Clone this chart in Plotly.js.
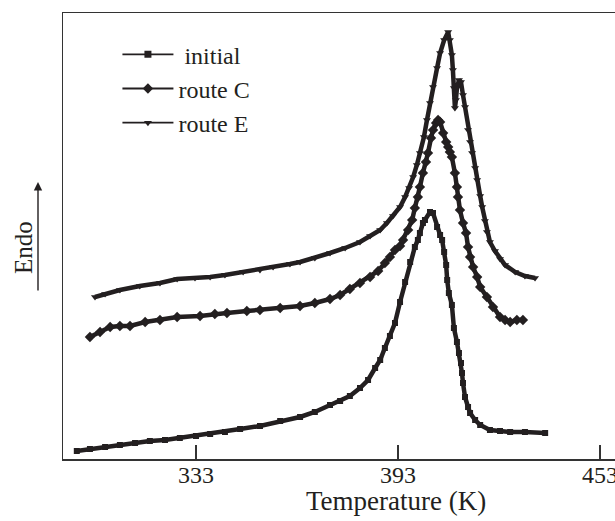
<!DOCTYPE html>
<html>
<head>
<meta charset="utf-8">
<script src="https://cdn.plot.ly/plotly-3.0.1.min.js"></script>
<style>
html,body{margin:0;padding:0;overflow:hidden;background:#fff;}
#chart{width:640px;height:521px;}
</style>
</head>
<body>
<div id="chart"></div>
<script>
// Temperature (K) and heat-flow signal (arbitrary units, endo up)
var initialT = [297.6,301.5,306.0,310.4,314.9,319.3,323.8,328.2,333.0,337.2,341.6,346.1,352.0,358.0,363.9,368.3,372.8,375.8,378.7,381.7,384.1,386.2,387.7,389.1,390.6,392.1,393.6,395.1,396.6,398.0,398.9,399.5,400.4,401.0,402.5,403.4,404.6,405.5,406.1,406.7,407.3,407.6,408.1,409.0,409.6,410.5,411.1,411.7,412.0,412.3,412.9,413.8,414.4,415.9,417.4,420.3,423.3,426.3,430.7,436.7];
var initialY = [8,10,12,14,16,18,19,21,23,25,27,30,33,38,42,47,54,58,63,71,79,91,99,111,123,136,157,177,197,212,219,226,236,239,247,246,232,224,219,207,194,179,166,154,131,117,106,96,86,76,62,52,46,39,34,29,28,27,27,26];

var routeCT = [301.5,304.5,307.5,310.4,313.4,317.9,322.3,327.4,334.2,338.6,342.2,348.1,352.0,358.0,363.9,368.3,372.8,375.8,378.7,381.7,384.7,387.1,389.1,390.6,392.1,393.6,394.5,396.0,397.2,398.0,398.9,399.5,400.4,401.3,401.9,402.8,403.4,404.3,404.9,405.5,406.4,407.3,407.9,408.4,409.0,409.9,410.5,410.8,411.4,412.3,413.2,413.8,414.4,415.3,416.5,417.4,419.4,421.2,423.3,424.8,426.3,428.3,430.1];
var routeCY = [122,127,132,133,133,137,139,142,143,145,146,148,149,151,153,156,160,164,170,176,182,188,196,202,209,213,219,229,239,251,262,272,286,297,306,321,329,336,339,337,326,317,312,307,302,286,272,262,249,236,226,212,202,192,182,172,162,152,142,139,137,139,139];

var routeET = [303.0,306.0,310.4,316.3,322.3,327.4,332.7,337.2,341.6,347.0,352.0,355.9,360.9,363.9,368.3,372.8,377.3,381.7,384.7,387.7,389.7,391.5,393.6,395.1,396.3,397.5,398.6,399.5,400.7,401.6,402.5,403.4,404.6,405.5,406.7,407.9,408.4,409.0,409.3,409.6,409.9,410.2,410.5,411.1,411.7,412.3,412.9,413.8,414.4,415.0,415.9,416.5,417.4,418.0,418.8,419.4,420.3,421.8,423.3,424.8,427.8,430.7,433.7];
var routeEY = [162,165,169,173,176,180,181,182,184,187,189,192,195,197,201,206,211,217,223,229,236,243,252,262,271,282,294,306,322,339,356,372,391,406,419,427,419,404,389,371,351,359,371,379,377,364,352,329,317,306,291,279,263,252,238,227,217,208,200,194,187,183,181];

var seriesNames = ['\u00a0initial', 'route C', 'route E'];
var tickVals = [333, 393, 453];
var tickText = ['333', '393', '453'];

var ink = '#231f20';
var font = 'Liberation Serif, Times New Roman, serif';

function mainTrace(x, y, sym, msize) {
  return {x: x, y: y, type: 'scatter', mode: 'lines+markers', showlegend: false,
    line: {color: ink, width: 4.5}, marker: {symbol: sym, size: msize, color: ink}};
}
function legendTrace(name, sym, msize) {
  return {x: [null], y: [null], type: 'scatter', mode: 'lines+markers', name: name,
    line: {color: ink, width: 1.8}, marker: {symbol: sym, size: msize, color: ink}};
}

var data = [
  mainTrace(initialT, initialY, 'square', 6),
  mainTrace(routeCT, routeCY, 'diamond', 8),
  mainTrace(routeET, routeEY, 'triangle-down', 7),
  legendTrace(seriesNames[0], 'square', 7),
  legendTrace(seriesNames[1], 'diamond', 8),
  legendTrace(seriesNames[2], 'triangle-down', 7)
];

var layout = {
  width: 640, height: 521,
  margin: {l: 63, r: 10, t: 13, b: 62},
  paper_bgcolor: '#fff', plot_bgcolor: '#fff',
  font: {family: font, size: 24, color: ink},
  showlegend: true,
  legend: {x: 0.096, y: 0.957, xanchor: 'left', yanchor: 'top', bgcolor: 'rgba(0,0,0,0)',
    font: {family: font, size: 24, color: ink}, itemwidth: 51, tracegroupgap: 0},
  xaxis: {range: [293.5, 461.9], showgrid: false, zeroline: false,
    showline: true, mirror: true, linecolor: '#333', linewidth: 1.5,
    ticks: 'inside', ticklen: 14, tickwidth: 1.2, tickcolor: '#333',
    tickvals: tickVals, ticktext: tickText, ticklabelstandoff: -6,
    tickfont: {family: font, size: 24, color: ink}},
  yaxis: {range: [0, 446], showgrid: false, zeroline: false,
    showline: true, mirror: true, linecolor: '#333', linewidth: 1.5,
    ticks: '', showticklabels: false},
  annotations: [
    {xref: 'x', yref: 'paper', x: 392.5, y: 0, yshift: -42, yanchor: 'middle', xanchor: 'center', showarrow: false,
     text: 'Temperature (K)', font: {family: font, size: 27, color: ink}},
    {xref: 'paper', yref: 'paper', x: -40/567, y: (459-248)/446, xanchor: 'center', yanchor: 'middle', textangle: -90, showarrow: false,
     text: 'Endo', font: {family: font, size: 25, color: ink}},
    {xref: 'paper', yref: 'paper', x: -25/567, y: (459-182)/446, ax: 0, ay: 110, axref: 'pixel', ayref: 'pixel',
     text: '', showarrow: true, arrowhead: 2, arrowsize: 1.2, arrowwidth: 1.4, arrowcolor: ink}
  ]
};

Plotly.newPlot('chart', data, layout, {displayModeBar: false, staticPlot: true});
</script>
</body>
</html>
